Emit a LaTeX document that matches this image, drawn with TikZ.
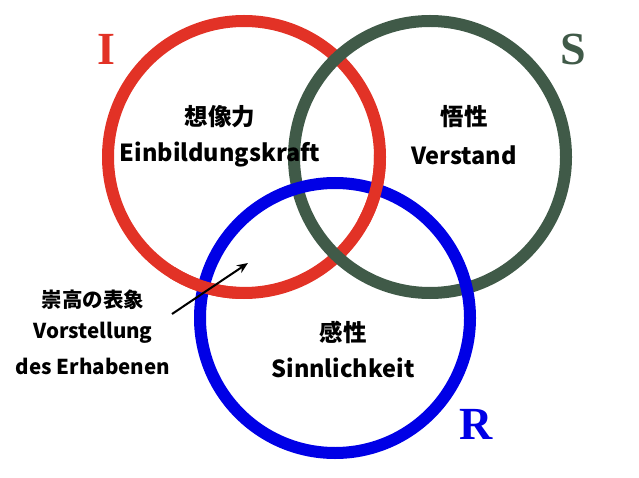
\documentclass[tikz,border=0pt]{standalone}
\usepackage{fontspec}
\setmainfont{Liberation Serif}
\newfontfamily\jpfont{Noto Sans CJK JP}
\usetikzlibrary{arrows.meta}
\definecolor{ringred}{RGB}{226,50,38}
\definecolor{ringgreen}{RGB}{64,90,72}
\definecolor{ringblue}{RGB}{0,0,230}
\tikzset{
  ring/.style={line width=12pt},
  label/.style={font=\jpfont\bfseries\fontsize{23.5}{28}\selectfont, inner sep=0pt},
  smalllabel/.style={font=\jpfont\bfseries\fontsize{20.5}{24}\selectfont, inner sep=0pt},
  letter/.style={font=\bfseries\fontsize{46}{50}\selectfont, inner sep=0pt},
}
\begin{document}
\begin{tikzpicture}[x=1pt,y=-1pt]
\useasboundingbox (0,0) rectangle (639,478);
\coordinate (cI) at (244,157);
\coordinate (cS) at (430,157);
\coordinate (cR) at (335,318);
% rings: green over red, blue over green, red over blue
\draw[ring, ringred] (cI) circle[radius=136];
\draw[ring, ringgreen] (cS) circle[radius=136];
\draw[ring, ringblue] (cR) circle[radius=135];
\draw[ring, ringred] ([shift={(122:136)}]cI) arc[start angle=122, end angle=92, radius=136];
\draw[ring, ringred] ([shift={(29:136)}]cI) arc[start angle=29, end angle=-1, radius=136];
% letters
\node[letter, text=ringred] (lI) at (106,49) {I};
\node[letter, text=ringgreen] (lS) at (573,49) {S};
\node[letter, text=ringblue] (lR) at (476,424) {R};
% labels
\node[label] (jI) at (220,117) {想像力};
\node[label] (eI) at (220,155) {Einbildungskraft};
\node[label] (jS) at (464,117) {悟性};
\node[label] (eS) at (464,155) {Verstand};
\node[label] (jR) at (343,332) {感性};
\node[label] (eR) at (343,368) {Sinnlichkeit};
\node[smalllabel] (j1) at (93,300) {崇高の表象};
\node[smalllabel] (e1) at (93,333) {Vorstellung};
\node[smalllabel] (e2) at (93,366) {des Erhabenen};
\coordinate (astart) at (172,314);
\coordinate (aend) at (248,263);
\draw[line width=2pt, -{Stealth[length=11pt,width=9pt]}] (astart) -- (aend);
\end{tikzpicture}
\end{document}
